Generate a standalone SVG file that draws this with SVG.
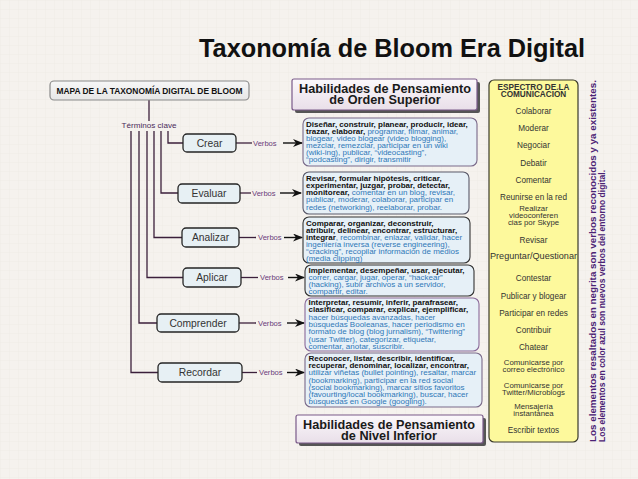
<svg xmlns="http://www.w3.org/2000/svg" width="638" height="479" viewBox="0 0 638 479">
<style>
text{font-family:"Liberation Sans",Arial,sans-serif}
.node rect{fill:#e7f0f4;stroke:#252525;stroke-width:1.3}
.node text{font-size:10.3px;fill:#333;text-anchor:middle}
.conn{stroke:#3b1f3b;stroke-width:1.3;fill:none}
.arr{stroke:#111;stroke-width:1.4;fill:none;marker-end:url(#ah)}
.vb{font-size:7.6px;fill:#6b3d7b}
.tb rect{fill:#e6f0f7;stroke-width:1.1}
.tb text{font-size:8px;fill:#2f78b7}
.b{font-weight:bold;fill:#111}
.hdr rect.f{fill:url(#hg);stroke:#7a5a8a;stroke-width:1.2}
.hdr rect.s{fill:#555}
.hdr text{font-size:12.7px;font-weight:bold;fill:#1a1a1a;text-anchor:middle}
.yl text{font-size:8.2px;fill:#333;text-anchor:middle}
.yl text.m{font-size:7.8px}
.side{font-size:9.8px;font-weight:bold;fill:#4b2275}
</style>
<defs>
<pattern id="grid" width="9" height="9" patternUnits="userSpaceOnUse">
<path d="M9 0H0V9" fill="none" stroke="#ebe6e0" stroke-width="0.6"/>
</pattern>
<linearGradient id="hg" x1="0" y1="0" x2="0" y2="1">
<stop offset="0" stop-color="#fbf8fb"/>
<stop offset="1" stop-color="#e9dfe9"/>
</linearGradient>
<linearGradient id="mg" x1="0" y1="0" x2="0" y2="1">
<stop offset="0" stop-color="#f7f7f7"/>
<stop offset="1" stop-color="#e6e6e6"/>
</linearGradient>
<marker id="ah" viewBox="0 0 10 8" refX="9" refY="4" markerWidth="10" markerHeight="8" markerUnits="userSpaceOnUse" orient="auto">
<path d="M0,0 L10,4 L0,8 L3,4 z" fill="#111"/>
</marker>
</defs>
<rect width="638" height="479" fill="#f5f2ee"/>
<rect width="638" height="479" fill="url(#grid)"/>

<text x="199" y="57" font-size="25.3" font-weight="bold" fill="#111">Taxonomía de Bloom Era Digital</text>

<g id="connectors">
<path class="conn" d="M149 100V121"/>
<path class="conn" d="M168 131V143H183"/>
<path class="conn" d="M161 131V193H178"/>
<path class="conn" d="M154 131V237.5H182"/>
<path class="conn" d="M147 131V277.5H183"/>
<path class="conn" d="M139 131V323H157"/>
<path class="conn" d="M131 131V372.5H158"/>
<path class="conn" d="M236 143H252"/>
<path class="conn" d="M240 193H251"/>
<path class="conn" d="M239 237.5H256"/>
<path class="conn" d="M241 277.5H258"/>
<path class="conn" d="M239 323H256"/>
<path class="conn" d="M242 372.5H257"/>
<text class="vb" x="253" y="145.5">Verbos</text>
<text class="vb" x="252" y="195.5">Verbos</text>
<text class="vb" x="258" y="240">Verbos</text>
<text class="vb" x="260" y="280">Verbos</text>
<text class="vb" x="258" y="325.5">Verbos</text>
<text class="vb" x="259" y="375">Verbos</text>
<path class="arr" d="M283 143H302"/>
<path class="arr" d="M280 193H301"/>
<path class="arr" d="M284 237.5H302"/>
<path class="arr" d="M288 277.5H304"/>
<path class="arr" d="M287 323H304"/>
<path class="arr" d="M287 372.5H304"/>
<text x="149" y="127.5" font-size="8.1" fill="#4a2a5a" text-anchor="middle">Términos clave</text>
</g>

<g id="mapa">
<rect x="50" y="81" width="199" height="19" rx="4" fill="url(#mg)" stroke="#8a8a8a" stroke-width="1.2"/>
<text x="149.5" y="94.3" font-size="8.4" font-weight="bold" fill="#111" text-anchor="middle">MAPA DE LA TAXONOMÍA DIGITAL DE BLOOM</text>
</g>

<g id="crear" class="node"><rect x="183" y="134" width="53" height="18" rx="4"/><text x="209.5" y="146.7">Crear</text></g>
<g id="evaluar" class="node"><rect x="178" y="184" width="62" height="19" rx="4"/><text x="209" y="197">Evaluar</text></g>
<g id="analizar" class="node"><rect x="182" y="228" width="57" height="19" rx="4"/><text x="210.5" y="241">Analizar</text></g>
<g id="aplicar" class="node"><rect x="183" y="268" width="58" height="19" rx="4"/><text x="212" y="281">Aplicar</text></g>
<g id="comprender" class="node"><rect x="157" y="314" width="82" height="18" rx="4"/><text x="198" y="326.5">Comprender</text></g>
<g id="recordar" class="node"><rect x="158" y="363" width="84" height="19" rx="4"/><text x="200" y="376">Recordar</text></g>

<g id="hdr-superior" class="hdr">
<rect class="s" x="295" y="82" width="185" height="31" rx="2"/>
<rect class="f" x="292" y="79" width="185" height="31" rx="2"/>
<text x="385" y="92.5">Habilidades de Pensamiento</text>
<text x="385" y="104">de Orden Superior</text>
</g>

<g id="v-crear" class="tb">
<rect x="303" y="118" width="174" height="48" rx="6" stroke="#7a6a8a"/>
<text x="306" y="126.8"><tspan class="b">Diseñar, construir, planear, producir, idear,</tspan></text>
<text x="306" y="133.9"><tspan class="b">trazar, elaborar,</tspan> programar, filmar, animar,</text>
<text x="306" y="141">blogear, video blogear (video blogging),</text>
<text x="306" y="148.1">mezclar, remezclar, participar en un wiki</text>
<text x="306" y="155.2">(wiki-ing), publicar, “videocasting”,</text>
<text x="306" y="162.3">“podcasting”, dirigir, transmitir</text>
</g>

<g id="v-evaluar" class="tb">
<rect x="303" y="172" width="166" height="42" rx="6" stroke="#5a5a6a"/>
<text x="306" y="180.8"><tspan class="b">Revisar, formular hipótesis, criticar,</tspan></text>
<text x="306" y="188"><tspan class="b">experimentar, juzgar, probar, detectar,</tspan></text>
<text x="306" y="195.2"><tspan class="b">monitorear,</tspan> comentar en un blog, revisar,</text>
<text x="306" y="202.4">publicar, moderar, colaborar, participar en</text>
<text x="306" y="209.6">redes (networking), reelaborar, probar.</text>
</g>

<g id="v-analizar" class="tb">
<rect x="303" y="217" width="167" height="46" rx="6" stroke="#333"/>
<text x="306" y="225.6"><tspan class="b">Comparar, organizar, deconstruir,</tspan></text>
<text x="306" y="232.8"><tspan class="b">atribuir, delinear, encontrar, estructurar,</tspan></text>
<text x="306" y="240"><tspan class="b">integrar</tspan>, recombinar, enlazar, validar, hacer</text>
<text x="306" y="247.2">ingeniería inversa (reverse engineering),</text>
<text x="306" y="254.4">“cracking”, recopilar información de medios</text>
<text x="306" y="261.4">(media clipping)</text>
</g>

<g id="v-aplicar" class="tb">
<rect x="305" y="265" width="169" height="31" rx="6" stroke="#333"/>
<text x="308.5" y="272.5"><tspan class="b">Implementar, desempeñar, usar, ejecutar,</tspan></text>
<text x="308.5" y="279.6">correr, cargar, jugar, operar, “hackear”</text>
<text x="308.5" y="286.7">(hacking), subir archivos a un servidor,</text>
<text x="308.5" y="293.8">compartir, editar.</text>
</g>

<g id="v-comprender" class="tb">
<rect x="305" y="298" width="174" height="53" rx="6" stroke="#8a6a9a"/>
<text x="308.5" y="305"><tspan class="b">Interpretar, resumir, inferir, parafrasear,</tspan></text>
<text x="308.5" y="312.3"><tspan class="b">clasificar, comparar, explicar, ejemplificar,</tspan></text>
<text x="308.5" y="319.6">hacer búsquedas avanzadas, hacer</text>
<text x="308.5" y="326.9">búsquedas Booleanas, hacer periodismo en</text>
<text x="308.5" y="334.2">formato de blog (blog jurnalism), “Twittering”</text>
<text x="308.5" y="341.5">(usar Twitter), categorizar, etiquetar,</text>
<text x="308.5" y="348.8">comentar, anotar, suscribir.</text>
</g>

<g id="v-recordar" class="tb">
<rect x="305" y="353" width="177" height="54" rx="6" stroke="#7a6a8a"/>
<text x="308.5" y="361"><tspan class="b">Reconocer, listar, describir, identificar,</tspan></text>
<text x="308.5" y="368.2"><tspan class="b">recuperar, denominar, localizar, encontrar,</tspan></text>
<text x="308.5" y="375.4">utilizar viñetas (bullet pointing), resaltar, marcar</text>
<text x="308.5" y="382.6">(bookmarking), participar en la red social</text>
<text x="308.5" y="389.8">(social bookmarking), marcar sitios favoritos</text>
<text x="308.5" y="397">(favourting/local bookmarking), buscar, hacer</text>
<text x="308.5" y="404.2">búsquedas en Google (googling).</text>
</g>

<g id="hdr-inferior" class="hdr">
<rect class="s" x="299" y="418" width="187" height="28" rx="2"/>
<rect class="f" x="296" y="415" width="187" height="28" rx="2"/>
<text x="389" y="428.5">Habilidades de Pensamiento</text>
<text x="389" y="439.5">de Nivel Inferior</text>
</g>

<g id="espectro" class="yl">
<rect x="489" y="80" width="89" height="362" rx="5" fill="#fdf99c" stroke="#3a3a2a" stroke-width="1.2"/>
<text x="533.5" y="90" font-weight="bold" font-size="7.8" fill="#111">ESPECTRO DE LA</text>
<text x="533.5" y="97.3" font-weight="bold" font-size="7.8" fill="#111">COMUNICACIÓN</text>
<text x="533.5" y="114">Colaborar</text>
<text x="533.5" y="131">Moderar</text>
<text x="533.5" y="147.5">Negociar</text>
<text x="533.5" y="165.5">Debatir</text>
<text x="533.5" y="182.5">Comentar</text>
<text x="533.5" y="199.5">Reunirse en la red</text>
<text class="m" x="533.5" y="211">Realizar</text>
<text class="m" x="533.5" y="218">videoconferen</text>
<text class="m" x="533.5" y="225">cias por Skype</text>
<text x="533.5" y="242.5">Revisar</text>
<text x="533.5" y="259" textLength="87" lengthAdjust="spacingAndGlyphs">Preguntar/Questionar</text>
<text x="533.5" y="281">Contestar</text>
<text x="533.5" y="298.5">Publicar y blogear</text>
<text x="533.5" y="315.5">Participar en redes</text>
<text x="533.5" y="332.5">Contribuir</text>
<text x="533.5" y="349.5">Chatear</text>
<text class="m" x="533.5" y="364.5">Comunicarse por</text>
<text class="m" x="533.5" y="372">correo electrónico</text>
<text class="m" x="533.5" y="387.5">Comunicarse por</text>
<text class="m" x="533.5" y="395">Twitter/Microblogs</text>
<text class="m" x="533.5" y="408.5">Mensajería</text>
<text class="m" x="533.5" y="416">instantánea</text>
<text x="533.5" y="433">Escribir textos</text>
</g>

<g id="nota">
<text class="side" transform="translate(596,442) rotate(-90)" textLength="362" lengthAdjust="spacingAndGlyphs">Los elementos resaltados en negrita son verbos reconocidos y ya existentes.</text>
<text class="side" transform="translate(605,442) rotate(-90)" textLength="272" lengthAdjust="spacingAndGlyphs">Los elementos en color azul son nuevos verbos del entorno digital.</text>
</g>
</svg>
